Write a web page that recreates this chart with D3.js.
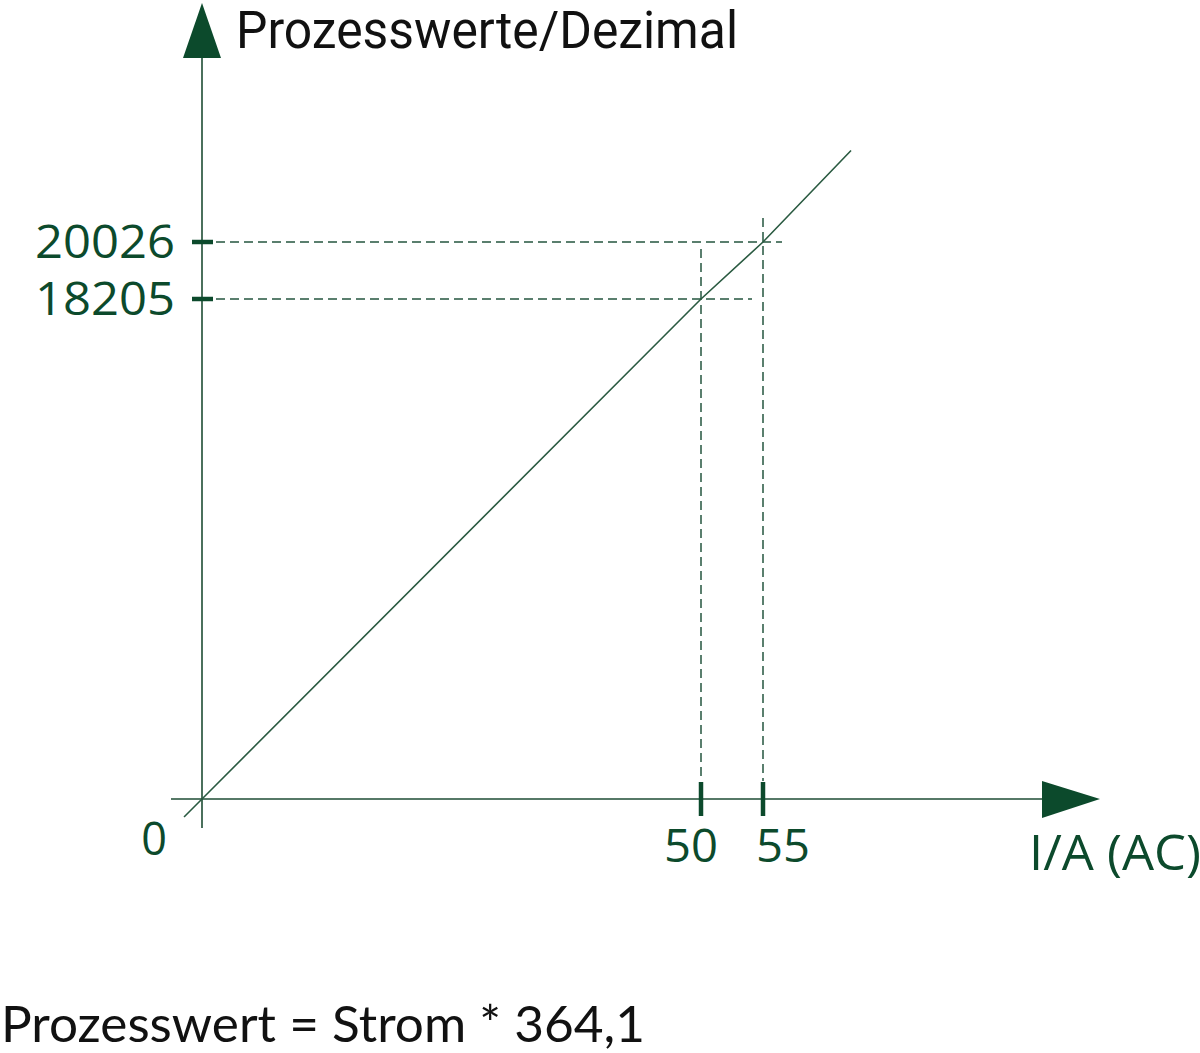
<!DOCTYPE html>
<html><head><meta charset="utf-8">
<script src="https://cdn.jsdelivr.net/npm/d3@7"></script>
<style>html,body{margin:0;padding:0;background:#fff;overflow:hidden}</style>
</head><body>
<svg id="c" width="1200" height="1053"></svg>
<script>
// ---- data ----
const currentTicks = [50, 55];            // I/A (AC)
const processTicks = [18205, 20026];      // Prozesswerte/Dezimal
const linePointsI = [-1.8, 0, 50, 55, 62.1];
const linePointsP = [-655, 0, 18205, 20026, 22950];
const titleY = "Prozesswerte/Dezimal";
const titleX = "I/A (AC)";
const formula = "Prozesswert = Strom * 364,1";
const originLabel = "0";

const GREEN = "#0c4a2c";
const svg = d3.select("#c");

const x = d3.scaleLinear().domain([0, 50, 55]).range([202, 701, 763]);
const y = d3.scaleLinear().domain([0, 18205, 20026]).range([799, 299, 242]);

const x0 = x(0), y0 = y(0);

// dashed guide lines
const dash = svg.append("g").attr("stroke", "#24553f").attr("stroke-width", 1.5)
  .attr("stroke-dasharray", "9,5").attr("fill", "none");
const hExt = [752 - x(50), 782 - x(55)];
processTicks.forEach((v, i) => {
  dash.append("line").attr("x1", x0 + 14).attr("x2", x(currentTicks[i]) + hExt[i])
    .attr("y1", y(v)).attr("y2", y(v));
});
const vTop = [y(18205) - 50, y(20026) - 24];
currentTicks.forEach((v, i) => {
  dash.append("line").attr("x1", x(v)).attr("x2", x(v))
    .attr("y1", vTop[i]).attr("y2", y0 - 18);
});

// axes
svg.append("line").attr("x1", 171).attr("x2", 1043).attr("y1", y0).attr("y2", y0)
  .attr("stroke", "#1e4d34").attr("stroke-width", 1.6);
svg.append("line").attr("x1", x0).attr("x2", x0).attr("y1", 828).attr("y2", 57)
  .attr("stroke", "#1e4d34").attr("stroke-width", 1.6);
// arrows
svg.append("path").attr("d", `M1042,781 L1100,${y0} L1042,818 Z`).attr("fill", GREEN);
svg.append("path").attr("d", `M${x0},3 L221,58 L183,58 Z`).attr("fill", GREEN);

// data line
const pts = linePointsI.map((v, i) => [x(v), y(linePointsP[i])]);
svg.append("path").attr("d", d3.line()(pts)).attr("fill", "none")
  .attr("stroke", "#2a5a41").attr("stroke-width", 1.6);

// ticks
const tk = svg.append("g").attr("stroke", GREEN).attr("stroke-width", 4.5);
currentTicks.forEach(v => tk.append("line").attr("x1", x(v)).attr("x2", x(v)).attr("y1", 782).attr("y2", 816));
processTicks.forEach(v => tk.append("line").attr("x1", 192).attr("x2", 213).attr("y1", y(v)).attr("y2", y(v)));

// tick labels
const lf = "'Open Sans', 'Noto Sans', sans-serif";
processTicks.forEach(v => {
  svg.append("text").attr("x", 175).attr("y", y(v) + 16).attr("text-anchor", "end")
    .attr("font-family", lf).attr("font-size", 45).attr("font-weight", 500).attr("fill", GREEN)
    .attr("textLength", 140).attr("lengthAdjust", "spacingAndGlyphs").text(v);
});
const xLabOff = [-10, 20];
currentTicks.forEach((v, i) => {
  svg.append("text").attr("x", x(v) + xLabOff[i]).attr("y", 862).attr("text-anchor", "middle")
    .attr("font-family", lf).attr("font-size", 45).attr("font-weight", 500).attr("fill", GREEN)
    .attr("textLength", 54).attr("lengthAdjust", "spacingAndGlyphs").text(v);
});
svg.append("text").attr("x", 154).attr("y", 855).attr("text-anchor", "middle")
  .attr("font-family", lf).attr("font-size", 45).attr("font-weight", 500).attr("fill", GREEN).text(originLabel);
svg.append("text").attr("x", 1029).attr("y", 870)
  .attr("font-family", lf).attr("font-size", 50).attr("font-weight", 500).attr("fill", GREEN)
  .attr("textLength", 172).attr("lengthAdjust", "spacingAndGlyphs").text(titleX);

// title & formula
svg.append("text").attr("x", 236).attr("y", 48)
  .attr("font-family", "Roboto, 'Liberation Sans', sans-serif").attr("font-size", 51).attr("fill", "#111")
  .attr("textLength", 502).attr("lengthAdjust", "spacingAndGlyphs").text(titleY);
svg.append("text").attr("x", 1).attr("y", 1042)
  .attr("font-family", "'Lato', 'DejaVu Sans', sans-serif").attr("font-size", 50).attr("fill", "#111")
  .attr("textLength", 644).attr("lengthAdjust", "spacingAndGlyphs").text(formula);
</script>
</body></html>
